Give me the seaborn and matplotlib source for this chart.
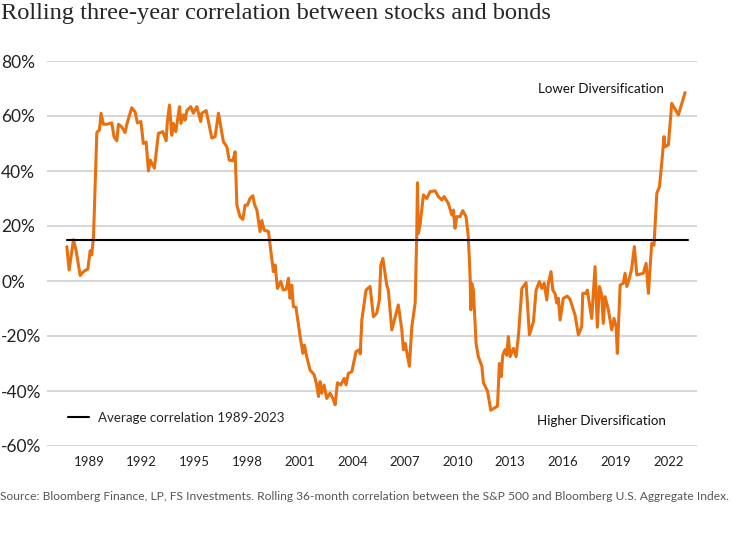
import pandas as pd
import matplotlib
matplotlib.use("Agg")
import matplotlib.pyplot as plt
import seaborn as sns

# rolling 36-month correlation (decimal year, percent)
years = [1987.73, 1987.86, 1988.11, 1988.26, 1988.49, 1988.68, 1988.93, 1989.06, 1989.15, 1989.25,
         1989.44, 1989.59, 1989.68, 1989.81, 1990.01, 1990.29, 1990.42, 1990.58, 1990.67, 1990.86,
         1991.05, 1991.15, 1991.34, 1991.43, 1991.62, 1991.75, 1991.95, 1992.09, 1992.25, 1992.38,
         1992.48, 1992.72, 1992.95, 1993.20, 1993.39, 1993.46, 1993.58, 1993.71, 1993.80, 1993.94,
         1994.15, 1994.23, 1994.37, 1994.47, 1994.57, 1994.79, 1994.94, 1995.14, 1995.36, 1995.42,
         1995.67, 1995.99, 1996.18, 1996.37, 1996.65, 1996.85, 1996.98, 1997.19, 1997.32, 1997.42,
         1997.60, 1997.76, 1997.89, 1998.02, 1998.17, 1998.33, 1998.42, 1998.56, 1998.74, 1998.84,
         1998.97, 1999.22, 1999.50, 1999.60, 1999.73, 1999.92, 2000.07, 2000.23, 2000.36, 2000.45,
         2000.55, 2000.64, 2000.79, 2001.02, 2001.18, 2001.27, 2001.40, 2001.59, 2001.82, 2001.97,
         2002.07, 2002.16, 2002.26, 2002.39, 2002.54, 2002.73, 2002.89, 2003.02, 2003.15, 2003.34,
         2003.53, 2003.64, 2003.77, 2003.97, 2004.21, 2004.40, 2004.45, 2004.54, 2004.78, 2005.01,
         2005.20, 2005.39, 2005.54, 2005.62, 2005.74, 2005.96, 2006.05, 2006.25, 2006.62, 2006.82,
         2006.91, 2007.01, 2007.10, 2007.25, 2007.39, 2007.58, 2007.67, 2007.71, 2007.76, 2007.86,
         2008.05, 2008.24, 2008.43, 2008.72, 2008.90, 2009.10, 2009.23, 2009.47, 2009.67, 2009.76,
         2009.85, 2009.95, 2010.14, 2010.29, 2010.48, 2010.61, 2010.71, 2010.75, 2010.80, 2010.90,
         2011.05, 2011.18, 2011.38, 2011.47, 2011.70, 2011.89, 2012.27, 2012.38, 2012.48, 2012.57,
         2012.70, 2012.80, 2012.89, 2012.99, 2013.18, 2013.33, 2013.46, 2013.66, 2013.90, 2014.09,
         2014.32, 2014.47, 2014.66, 2014.80, 2014.93, 2015.08, 2015.17, 2015.32, 2015.42, 2015.55,
         2015.65, 2015.74, 2015.84, 2016.02, 2016.25, 2016.41, 2016.69, 2016.88, 2017.07, 2017.13,
         2017.32, 2017.39, 2017.64, 2017.83, 2017.96, 2018.08, 2018.21, 2018.30, 2018.40, 2018.59,
         2018.78, 2018.91, 2019.03, 2019.10, 2019.26, 2019.44, 2019.54, 2019.64, 2019.79, 2019.92,
         2020.07, 2020.21, 2020.58, 2020.74, 2020.87, 2021.06, 2021.19, 2021.35, 2021.50, 2021.63,
         2021.76, 2021.82, 2022.01, 2022.20, 2022.58, 2022.96]
corr = [12.5, 4, 15, 11, 2, 3.4, 4.4, 11, 9.5, 16,
        54, 55, 61, 57, 57, 57.5, 52.5, 51, 57, 56,
        54, 57, 61, 63, 61.5, 57.5, 58, 50, 50.5, 40,
        44, 41, 53.7, 54.3, 51, 58, 64, 53, 57.3, 54.3,
        63.4, 57.3, 60.4, 58.5, 62, 63.4, 61, 63.4, 58, 61,
        62, 52, 52.5, 61, 50.7, 48.8, 44, 43.7, 47, 27.6,
        23.4, 22.4, 27.6, 27.6, 30, 31, 28, 25.8, 18, 22,
        18.5, 18, 3.4, 5.8, -2.7, -0.2, -3.3, -3, 1, -6.3,
        -1.5, -9.3, -9.6, -20, -26.3, -23.3, -27.5, -32.4, -34, -37.8,
        -42, -36.6, -40.8, -37.8, -42.7, -40.8, -42.7, -45, -37, -37.8,
        -35.4, -37.8, -33.6, -33, -25.7, -25, -26.5, -14.2, -3.3, -2,
        -13, -11.7, -6.9, 5.8, 8.2, -1.5, -3.3, -17.8, -8.7, -17.8,
        -25, -22.7, -25.7, -31, -16.6, -8, 16.7, 35.7, 17.3, 20.4,
        31.3, 30, 32.5, 32.8, 30.7, 29.5, 30.7, 28.2, 24, 25.8,
        19.2, 23.4, 23.4, 25.6, 23.4, 16, 1.6, -10.5, -0.8, -3.3,
        -22.7, -27.5, -31, -37, -40, -47, -45.5, -30, -34.8, -27,
        -25, -27, -20.2, -27.5, -24.5, -27.5, -20.2, -2.7, -0.6, -19.6,
        -14.8, -3.3, -0.2, -2.7, -0.8, -6.9, -0.8, 3.4, -3.3, -4.5,
        -8, -6.3, -14.2, -6.3, -5.5, -6.7, -12.4, -19.6, -16.6, -4.5,
        -4.5, -3.3, -13.6, 5.2, -16.8, -2, -5.1, -15.4, -5.7, -10.5,
        -17.8, -13.6, -16.6, -26.3, -1.5, -0.8, 2.8, -2, 1, 4.6,
        12.5, 2.2, 2.8, 6.4, -4.5, 13.7, 13, 31.9, 34.3, 42.8,
        52.5, 48.8, 49.5, 64.6, 60.4, 68.5]

avg_corr = 15
avg_span = [1987.73, 2023.13]
tick_years = list(range(1989, 2023, 3))
y_ticks = [-60, -40, -20, 0, 20, 40, 60, 80]

df = pd.DataFrame({"year": years, "corr": corr})
avg_df = pd.DataFrame({"year": avg_span, "corr": [avg_corr, avg_corr]})

sns.set_style("white")
plt.rcParams["font.family"] = ["Lato", "DejaVu Sans"]

fig = plt.figure(figsize=(7.32, 5.36), dpi=100)
ax = fig.add_axes([47 / 732, 1 - 446 / 536, 650 / 732, 385 / 536])

ax.set_yticks(y_ticks)
for v in y_ticks:
    ax.axhline(v, color="#d3d3d3", lw=1.3, zorder=0)

sns.lineplot(data=df, x="year", y="corr", color="#E8700F", lw=2.2, ax=ax,
             estimator=None, sort=False, zorder=3)
sns.lineplot(data=avg_df, x="year", y="corr", color="black", lw=1.5, ax=ax,
             label="Average correlation 1989-2023", zorder=4)

ax.set_xlim(1986.6, 2023.64)
ax.set_ylim(-60, 80)
ax.set_xticks(tick_years)
ax.set_xticklabels([str(y) for y in tick_years], fontsize=9.5, color="#222222")
ax.set_yticklabels([f"{v}%" for v in y_ticks], fontsize=12.5, ha="left", color="#222222")
ax.tick_params(axis="y", length=0, pad=33)
ax.tick_params(axis="x", length=0, pad=7)
ax.set_xlabel("")
ax.set_ylabel("")
for s in ax.spines.values():
    s.set_visible(False)

ax.legend(loc="center left", bbox_to_anchor=(0.032, 0.073), frameon=False,
          borderpad=0, borderaxespad=0, handlelength=1.6, handletextpad=0.7,
          fontsize=9.6)

ax.text(0.755, 0.927, "Lower Diversification", transform=ax.transAxes,
        fontsize=9.6, va="center", ha="left", color="#111111")
ax.text(0.754, 0.065, "Higher Diversification", transform=ax.transAxes,
        fontsize=9.6, va="center", ha="left", color="#111111")

fig.text(0.002, 0.974, "Rolling three-year correlation between stocks and bonds",
         family=["Liberation Serif", "DejaVu Serif"], fontsize=17.6, va="center", ha="left")
fig.text(0.0, 0.073,
         "Source: Bloomberg Finance, LP, FS Investments. Rolling 36-month correlation between "
         "the S&P 500 and Bloomberg U.S. Aggregate Index.",
         fontsize=8.65, color="#555555", va="center", ha="left")

fig.savefig("out.png", dpi=100)
